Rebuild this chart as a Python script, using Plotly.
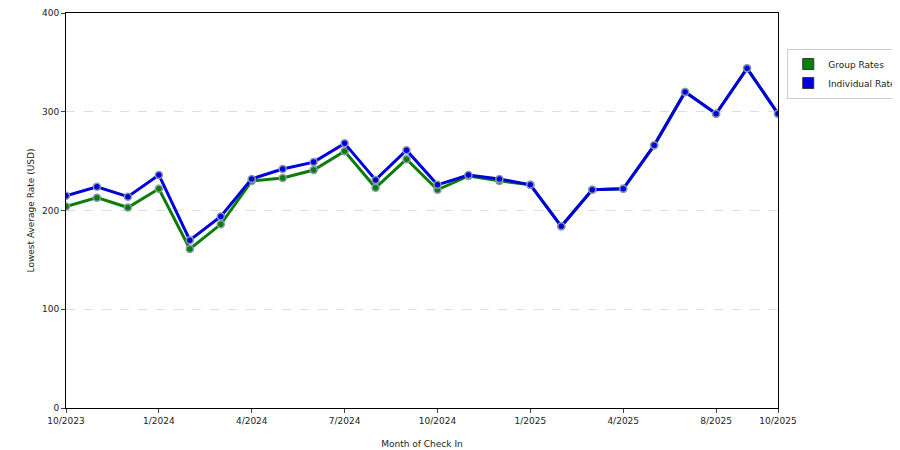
import plotly.graph_objects as go

x_idx = list(range(24))
group_rates = [204, 213, 203, 222, 161, 186, 230, 233, 241, 260, 223, 252, 221, 235, 230, 226, 184, 221, 222, 266, 320, 298, 344, 298]
indiv_rates = [215, 224, 214, 236, 170, 194, 232, 242, 249, 268, 231, 261, 226, 236, 232, 226, 184, 221, 222, 266, 320, 298, 344, 298]
tick_pos = [0, 3, 6, 9, 12, 15, 18, 21, 23]
tick_text = ["10/2023", "1/2024", "4/2024", "7/2024", "10/2024", "1/2025", "4/2025", "8/2025", "10/2025"]

fig = go.Figure()
for name, vals, col in [("Group Rates", group_rates, "#0a7d0a"), ("Individual Rates", indiv_rates, "#0000dd")]:
    fig.add_trace(go.Scatter(x=x_idx, y=vals, name=name, mode="lines+markers", showlegend=False,
                             line=dict(color=col, width=3),
                             marker=dict(size=7, color=col, line=dict(color="#8899aa", width=1.5))))
    fig.add_trace(go.Scatter(x=[None], y=[None], name=name, mode="markers",
                             marker=dict(symbol="square", size=11, color=col, line=dict(color="#333", width=1))))

fig.update_layout(
    width=900, height=450, paper_bgcolor="white", plot_bgcolor="white",
    margin=dict(l=58, r=130, t=5, b=50, autoexpand=False),
    font=dict(family="DejaVu Sans", size=9, color="#222"),
    xaxis=dict(range=[0, 23], tickvals=tick_pos, ticktext=tick_text, showgrid=False, automargin=False,
               showline=True, linecolor="black", mirror=True, ticks="outside", ticklen=4,
               zeroline=False, title=dict(text="Month of Check In", font=dict(size=9))),
    yaxis=dict(range=[0, 400], dtick=100, showgrid=True, gridcolor="#dddddd", griddash="dash", automargin=False,
               showline=True, linecolor="black", mirror=True, ticks="outside", ticklen=4,
               zeroline=False, title=dict(text="Lowest Average Rate (USD)", font=dict(size=9), standoff=5)),
    legend=dict(x=1.013, y=0.91, xanchor="left", yanchor="top", bordercolor="#cccccc", borderwidth=1,
                font=dict(size=9), itemwidth=30, tracegroupgap=2),
)
fig.write_html("out.html")
